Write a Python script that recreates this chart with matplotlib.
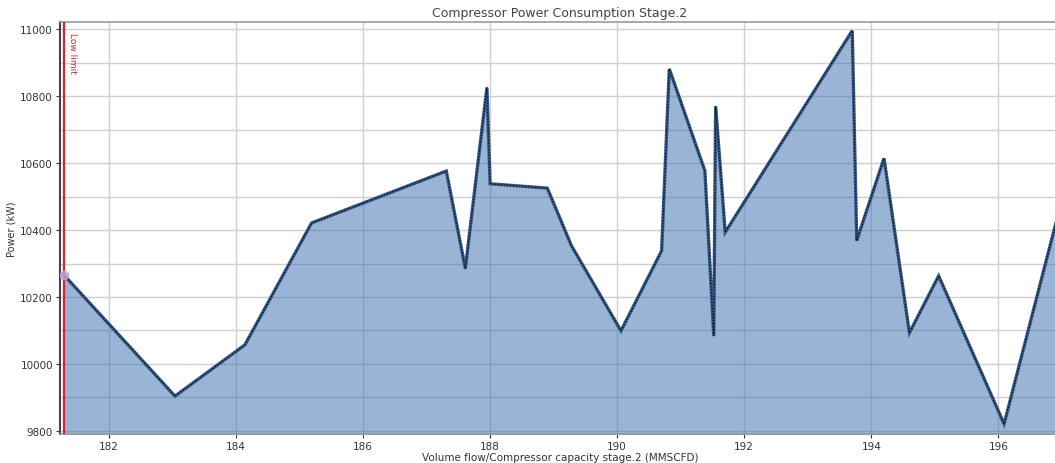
import matplotlib.pyplot as plt
from matplotlib.ticker import MultipleLocator

# Stage 2 compressor operating points: volume flow (MMSCFD) vs power (kW)
flow = [181.29, 183.04, 184.14, 185.19, 187.31, 187.61, 187.95, 188.00, 188.90,
        189.28, 190.06, 190.70, 190.82, 191.38, 191.52, 191.55, 191.70, 193.70,
        193.77, 194.20, 194.60, 195.06, 196.09, 197.00]
power = [10266, 9904, 10057, 10421, 10576, 10285, 10825, 10538, 10525,
         10353, 10099, 10338, 10881, 10577, 10084, 10769, 10393, 10995,
         10368, 10614, 10093, 10263, 9821, 10490]

low_limit = 181.29
y_ticks = [9800, 10000, 10200, 10400, 10600, 10800, 11000]
x_ticks = [182, 184, 186, 188, 190, 192, 194, 196]

fig = plt.figure(figsize=(10.55, 4.64), dpi=100)
ax = fig.add_axes([60 / 1055, 29 / 464, 1000 / 1055, 412 / 464])

ax.set_xlim(181.23, 196.97)
ax.set_ylim(9791, 11021)

# grid underneath a semi-transparent fill
ax.set_axisbelow(True)
ax.yaxis.set_minor_locator(MultipleLocator(100))
ax.grid(True, which='both', axis='y', color='#cfcfcf', linewidth=1.0)
ax.grid(True, which='major', axis='x', color='#cfcfcf', linewidth=1.0)

ax.fill_between(flow, power, 9700, color='#4777b4', alpha=0.55, linewidth=0, zorder=2)
ax.plot(flow, power, color='#34598a', linewidth=2.4, zorder=3, solid_joinstyle='miter')
ax.plot(flow, power, color='#151515', linewidth=1.0, linestyle=(0, (1, 1.2)), zorder=4)
ax.plot(flow[0], power[0], 'o', markersize=6, color='#b9a8e0', alpha=0.8, zorder=5)

# low limit marker
ax.axvline(low_limit, color='#e0202a', linewidth=1.6, zorder=4)
ax.text(low_limit + 0.07, 10990, 'Low limit', color='#e0202a', fontsize=6.5,
        rotation=-90, ha='left', va='top')

ax.set_xticks(x_ticks)
ax.set_yticks(y_ticks)
ax.tick_params(axis='both', labelsize=7.5, colors='#333333', length=3, width=0.8, pad=2)
ax.tick_params(which='minor', length=0)

for side in ['top', 'bottom']:
    ax.spines[side].set_color('#999999')
    ax.spines[side].set_linewidth(1.2)
ax.spines['left'].set_color('#444444')
ax.spines['left'].set_linewidth(1.5)
ax.spines['right'].set_visible(False)

ax.set_title('Compressor Power Consumption Stage.2', fontsize=9, color='#444444', pad=4)
ax.set_xlabel('Volume flow/Compressor capacity stage.2 (MMSCFD)', fontsize=7.5,
              color='#333333', labelpad=1)
ax.set_ylabel('Power (kW)', fontsize=7, color='#333333', labelpad=3)

fig.savefig('out.png', dpi=100)
